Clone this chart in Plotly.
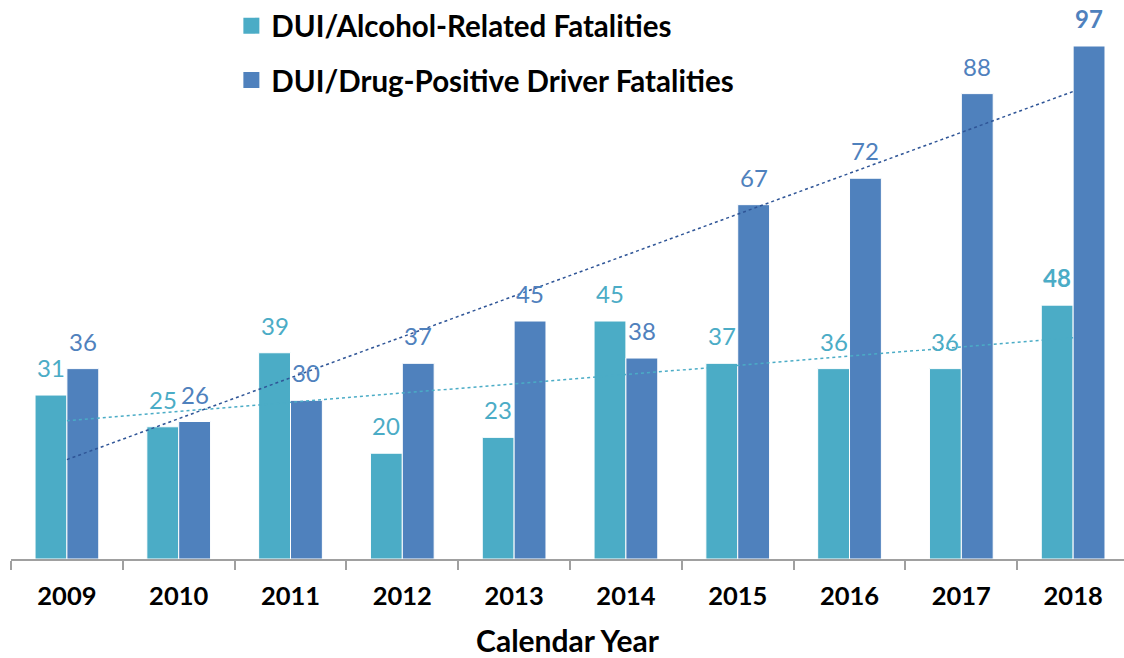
import numpy as np
import plotly.graph_objects as go

years = ["2009", "2010", "2011", "2012", "2013", "2014", "2015", "2016", "2017", "2018"]
alcohol = [31, 25, 39, 20, 23, 45, 37, 36, 36, 48]
drug = [36, 26, 30, 37, 45, 38, 67, 72, 88, 97]
series_names = ["DUI/Alcohol-Related Fatalities", "DUI/Drug-Positive Driver Fatalities"]

TEAL = "#4BACC6"
BLUE = "#4F81BD"
TREND_TEAL = "#4BACC6"
TREND_BLUE = "#2F5597"

W, H = 1124, 658
ML, MR, MT, MB = 11, 0, 0, 99
BARGAP = 0.43
FONT = "Lato"
X_RANGE = [-0.5, len(years) - 0.545]

fig = go.Figure()
for name, vals, col in [(series_names[0], alcohol, TEAL), (series_names[1], drug, BLUE)]:
    fig.add_trace(go.Bar(x=years, y=vals, name=name, showlegend=False,
                         marker=dict(color=col, line=dict(color="white", width=1))))

# linear trendlines
xi = np.arange(len(years))
for vals, col in [(alcohol, TREND_TEAL), (drug, TREND_BLUE)]:
    m, b = np.polyfit(xi, vals, 1)
    fig.add_trace(go.Scatter(x=years, y=(m * xi + b).tolist(), mode="lines", showlegend=False,
                             line=dict(color=col, width=1.5, dash="dot"), hoverinfo="skip"))

# legend entries (square swatches)
for name, col, grp in [(series_names[0], TEAL, "a"), (series_names[1], BLUE, "b")]:
    fig.add_trace(go.Scatter(x=[None], y=[None], mode="markers", name=name, legendgroup=grp,
                             marker=dict(symbol="square", size=16, color=col)))

# value labels
plot_w = W - ML - MR
unit_px = plot_w / (X_RANGE[1] - X_RANGE[0])
bar_px = unit_px * (1 - BARGAP) / 2
annotations = []
for vals, col, sgn in [(alcohol, TEAL, -1), (drug, BLUE, 1)]:
    for i, v in enumerate(vals):
        txt = f"<b>{v}</b>" if i == len(years) - 1 else str(v)
        annotations.append(dict(x=i, y=v, xref="x", yref="y", text=txt, showarrow=False,
                                yanchor="bottom", xshift=sgn * bar_px / 2, yshift=11,
                                font=dict(family=FONT, size=24, color=col)))

fig.update_layout(
    width=W, height=H,
    margin=dict(l=ML, r=MR, t=MT, b=MB),
    barmode="group", bargap=BARGAP, bargroupgap=0,
    plot_bgcolor="white", paper_bgcolor="white",
    font=dict(family=FONT, color="black"),
    showlegend=True,
    legend=dict(x=0.198, y=1.0, xanchor="left", yanchor="top", orientation="v",
                font=dict(family=FONT, size=29.5, color="black", weight="bold"),
                tracegroupgap=13, bgcolor="rgba(0,0,0,0)"),
    xaxis=dict(type="category", range=X_RANGE, tickson="boundaries", ticks="outside",
               ticklen=9, tickcolor="#A0A0A0", tickangle=0, automargin=False,
               tickwidth=1.5, showline=True, linecolor="#A0A0A0", linewidth=1.5, showgrid=False,
               ticklabelstandoff=14,
               tickfont=dict(family=FONT, size=25.5, color="black", weight="bold"),
               title=dict(text="Calendar Year", font=dict(family=FONT, size=30, color="black", weight="bold"),
                          standoff=26)),
    yaxis=dict(range=[0, 105.7], visible=False, showgrid=False, zeroline=False, automargin=False),
    annotations=annotations,
)

fig.write_html("out.html", config={"displayModeBar": False},
               post_script="document.body.style.margin='0';")
